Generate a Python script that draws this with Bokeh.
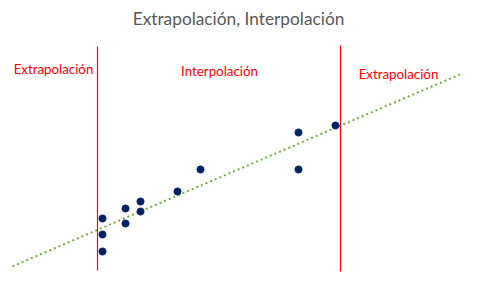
import numpy as np
from bokeh.plotting import figure
from bokeh.models import Range1d, Label
from bokeh.embed import file_html
from bokeh.resources import INLINE

# data (chart units, axes hidden)
xs = [102, 102, 102, 125, 125, 140, 140, 177, 200, 298, 298, 335]
ys = [64, 48, 31, 74, 59, 81, 71, 91, 113, 150, 113, 157]
boundaries = [97, 340]
boundary_low = [12, 11]
boundary_high = [236, 237]
trend_extent = [12, 462]
title_text = "Extrapolación, Interpolación"
region_labels = ["Extrapolación", "Interpolación", "Extrapolación"]
region_x = [53, 219, 398]
region_y = [214, 212, 209]

p = figure(width=477, height=282, output_backend="svg", toolbar_location=None,
           x_range=Range1d(0, 477), y_range=Range1d(0, 282), min_border=0)
p.axis.visible = False
p.grid.visible = False
p.outline_line_color = None
p.background_fill_color = "white"
p.border_fill_color = "white"

# trend line from least squares fit
m, b = np.polyfit(xs, ys, 1)
tx = np.array(trend_extent, dtype=float)
p.line(tx, m * tx + b, line_color="#70AD47", line_width=2, line_dash="2 3")

# boundaries
p.segment(x0=boundaries, y0=boundary_low, x1=boundaries, y1=boundary_high,
          line_color="#FF0000", line_width=1.2)

# points
p.scatter(xs, ys, size=7.5, fill_color="#002060", line_color="#1F3F7F", line_width=0.5)

p.add_layout(Label(x=238, y=264, text=title_text, text_align="center",
                   text_baseline="middle", text_font="Lato", text_font_size="17.3px",
                   text_color="#595959"))
for t, x, y in zip(region_labels, region_x, region_y):
    p.add_layout(Label(x=x, y=y, text=t, text_align="center", text_baseline="middle",
                       text_font="Lato", text_font_size="13.3px", text_color="#FF0000"))

open("out.html", "w").write(file_html(p, INLINE))
